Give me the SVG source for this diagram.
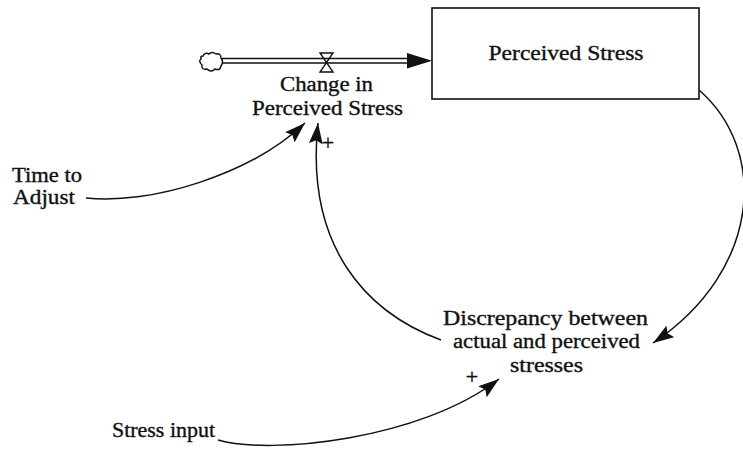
<svg xmlns="http://www.w3.org/2000/svg" width="743" height="450" viewBox="0 0 743 450">
  <style>
    text { font-family: "Times New Roman", "Liberation Serif", Times, "DejaVu Serif", serif; }
    .lbl { font-size: 20px; fill: #111; stroke: #111; stroke-width: 0.35; text-anchor: middle; }
    .sign { font-size: 22px; fill: #111; stroke: #111; stroke-width: 0.4; text-anchor: middle; }
    .link { fill: none; stroke: #111; stroke-width: 1.5; }
    .box { fill: #fff; stroke: #111; stroke-width: 1.6; }
  </style>
  <defs>
    <marker id="head" markerUnits="userSpaceOnUse" markerWidth="22" markerHeight="14" refX="18" refY="6" orient="auto" viewBox="0 0 19 12">
      <path d="M0,0 L18,6 L0,12 L3,6 Z" fill="#111"/>
    </marker>
  </defs>
  <rect width="743" height="450" fill="#fff"/>

  <!-- stock -->
  <g id="perceived-stress">
    <rect class="box" x="432" y="8" width="267" height="91"/>
    <text class="lbl" x="566" y="60" textLength="155" lengthAdjust="spacingAndGlyphs">Perceived Stress</text>
  </g>

  <!-- source cloud -->
  <g id="source">
    <path d="M203,56 Q205,52 209,54 Q212,51 216,54 Q221,53 221,58 Q224,62 221,66 Q220,71 215,69 Q211,73 207,69 Q201,70 202,65 Q198,61 201,59 Q200,56 203,56 Z" fill="#fff" stroke="#111" stroke-width="1.5"/>
  </g>

  <!-- flow -->
  <g id="change-in-perceived-stress">
    <line x1="222" y1="58.5" x2="410" y2="58.5" stroke="#111" stroke-width="1.5"/>
    <line x1="222" y1="63" x2="410" y2="63" stroke="#111" stroke-width="1.5"/>
    <path d="M407,53 L432,60.75 L407,68.5 Z" fill="#111"/>
    <path d="M320,53 L333,53 L320,72 L333,72 Z" fill="none" stroke="#111" stroke-width="1.4"/>
    <text class="lbl" x="326.5" y="91" textLength="93" lengthAdjust="spacingAndGlyphs">Change in</text>
    <text class="lbl" x="327.5" y="115" textLength="151" lengthAdjust="spacingAndGlyphs">Perceived Stress</text>
  </g>

  <g id="time-to-adjust">
    <text class="lbl" x="47" y="182" textLength="70" lengthAdjust="spacingAndGlyphs">Time to</text>
    <text class="lbl" x="44" y="204" textLength="62" lengthAdjust="spacingAndGlyphs">Adjust</text>
  </g>

  <g id="discrepancy">
    <text class="lbl" x="545.5" y="325" textLength="205" lengthAdjust="spacingAndGlyphs">Discrepancy between</text>
    <text class="lbl" x="546.5" y="348" textLength="187" lengthAdjust="spacingAndGlyphs">actual and perceived</text>
    <text class="lbl" x="546.5" y="372" textLength="73" lengthAdjust="spacingAndGlyphs">stresses</text>
  </g>

  <g id="stress-input">
    <text class="lbl" x="163.5" y="437" textLength="103" lengthAdjust="spacingAndGlyphs">Stress input</text>
  </g>

  <!-- causal links -->
  <g id="links">
    <path class="link" d="M86,198 C150,205 250,175 305,123" marker-end="url(#head)"/>
    <path class="link" d="M441,340 C365,312 305,245 318,123" marker-end="url(#head)"/>
    <path class="link" d="M699,90 C768,150 762,270 653,343" marker-end="url(#head)"/>
    <path class="link" d="M218,440 C270,455 420,440 499,379" marker-end="url(#head)"/>
    <text class="sign" x="328" y="150">+</text>
    <text class="sign" x="472" y="384">+</text>
  </g>
</svg>
